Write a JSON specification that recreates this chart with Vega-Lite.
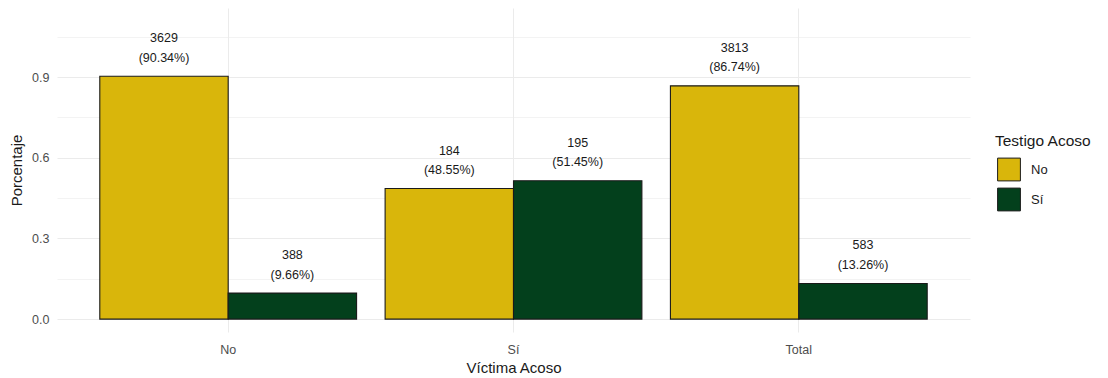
{
  "$schema": "https://vega.github.io/schema/vega-lite/v6.json",
  "width": 913,
  "height": 324,
  "autosize": {"type": "none"},
  "padding": {"left": 57, "top": 8, "right": 138, "bottom": 46},
  "background": "white",
  "config": {
    "view": {"stroke": null},
    "font": "Liberation Sans",
    "axis": {"labelFont": "Liberation Sans", "titleFont": "Liberation Sans", "titleFontWeight": "normal"}
  },
  "data": {
    "values": [
      {"victima": "No", "testigo": "No", "pct": 0.9034, "label": "3629\n(90.34%)"},
      {"victima": "No", "testigo": "Sí", "pct": 0.0966, "label": "388\n(9.66%)"},
      {"victima": "Sí", "testigo": "No", "pct": 0.4855, "label": "184\n(48.55%)"},
      {"victima": "Sí", "testigo": "Sí", "pct": 0.5145, "label": "195\n(51.45%)"},
      {"victima": "Total", "testigo": "No", "pct": 0.8674, "label": "3813\n(86.74%)"},
      {"victima": "Total", "testigo": "Sí", "pct": 0.1326, "label": "583\n(13.26%)"}
    ]
  },
  "encoding": {
    "x": {
      "field": "victima",
      "type": "nominal",
      "sort": ["No", "Sí", "Total"],
      "scale": {"paddingInner": 0.1, "paddingOuter": 0.15},
      "axis": {
        "title": "Víctima Acoso",
        "labelAngle": 0,
        "domain": false,
        "ticks": false,
        "bandPosition": 0.5,
        "grid": true,
        "gridColor": "#EBEBEB",
        "gridWidth": 1,
        "labelColor": "#4D4D4D",
        "labelFontSize": 12.5,
        "labelPadding": 11,
        "titleFontSize": 15,
        "titleColor": "#1A1A1A",
        "titlePadding": 5
      }
    },
    "xOffset": {"field": "testigo", "type": "nominal", "sort": ["No", "Sí"], "scale": {"paddingInner": 0}},
    "y": {
      "field": "pct",
      "type": "quantitative",
      "scale": {"domain": [-0.048, 1.157], "nice": false, "zero": false},
      "axis": {
        "title": "Porcentaje",
        "values": [0, 0.15, 0.3, 0.45, 0.6, 0.75, 0.9, 1.05],
        "labelExpr": "round(datum.value*100) % 30 == 0 ? format(datum.value, '.1f') : ''",
        "domain": false,
        "ticks": false,
        "grid": true,
        "gridColor": "#EBEBEB",
        "gridWidth": {"condition": {"test": "round(datum.value*100) % 30 == 0", "value": 1.1}, "value": 0.6},
        "labelColor": "#4D4D4D",
        "labelFontSize": 12.5,
        "labelPadding": 8,
        "titleFontSize": 15,
        "titleColor": "#1A1A1A",
        "titlePadding": 7
      }
    }
  },
  "layer": [
    {
      "mark": {"type": "bar", "stroke": "#1A1A1A", "strokeWidth": 1.1},
      "encoding": {
        "color": {
          "field": "testigo",
          "type": "nominal",
          "sort": ["No", "Sí"],
          "scale": {"domain": ["No", "Sí"], "range": ["#D9B60B", "#03401C"]},
          "legend": {
            "title": "Testigo Acoso",
            "orient": "none",
            "legendX": 938,
            "legendY": 126,
            "titleFontSize": 15.5,
            "titleFontWeight": "normal",
            "titleColor": "#1A1A1A",
            "titlePadding": 8,
            "labelFontSize": 13,
            "labelColor": "#1A1A1A",
            "labelOffset": 10,
            "symbolType": "square",
            "symbolSize": 520,
            "symbolStrokeColor": "#1A1A1A",
            "symbolStrokeWidth": 1,
            "rowPadding": 2,
            "symbolOffset": 2
          }
        }
      }
    },
    {
      "mark": {"type": "text", "baseline": "bottom", "dy": -31, "fontSize": 12.5, "lineBreak": "\n", "lineHeight": 19.5, "color": "#1A1A1A", "font": "Liberation Sans"},
      "encoding": {"text": {"field": "label"}}
    }
  ]
}
